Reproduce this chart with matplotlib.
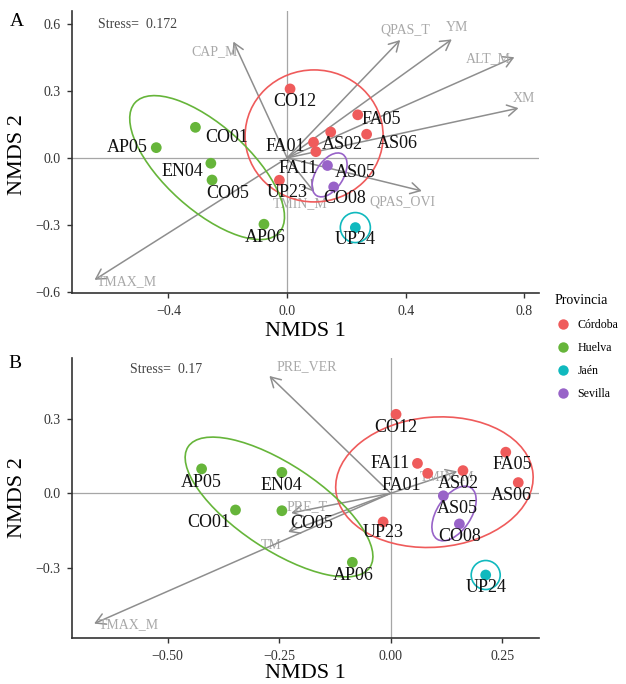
import numpy as np
import matplotlib
matplotlib.use("Agg")
import matplotlib.pyplot as plt
from matplotlib.lines import Line2D
from matplotlib.patches import Circle
from matplotlib.transforms import Affine2D

plt.rcParams["font.family"] = ["Liberation Serif", "DejaVu Serif"]

provinces = ["Córdoba", "Huelva", "Jaén", "Sevilla"]
prov_colors = {"Córdoba": "#EF5B5B", "Huelva": "#66B53A",
               "Jaén": "#10B9BE", "Sevilla": "#9863C8"}

sites = ["CO12", "FA01", "FA11", "AS02", "FA05", "AS06", "UP23",
         "AP05", "CO01", "EN04", "CO05", "AP06", "AS05", "CO08", "UP24"]
site_prov = ["Córdoba"] * 7 + ["Huelva"] * 5 + ["Sevilla"] * 2 + ["Jaén"]

# panel A: site scores
a_x = [0.010, 0.089, 0.097, 0.147, 0.238, 0.268, -0.026,
       -0.441, -0.309, -0.257, -0.253, -0.078, 0.136, 0.157, 0.230]
a_y = [0.309, 0.070, 0.028, 0.116, 0.193, 0.106, -0.100,
       0.046, 0.137, -0.024, -0.099, -0.297, -0.034, -0.130, -0.312]
# panel B: site scores
b_x = [0.012, 0.083, 0.060, 0.162, 0.258, 0.286, -0.017,
       -0.424, -0.348, -0.244, -0.244, -0.086, 0.118, 0.154, 0.213]
b_y = [0.317, 0.080, 0.120, 0.091, 0.165, 0.043, -0.115,
       0.098, -0.067, 0.084, -0.070, -0.277, -0.010, -0.123, -0.328]

# fitted environmental vectors
a_vec = ["CAP_M", "QPAS_T", "YM", "ALT_M", "XM", "QPAS_OVI", "TMIN_M", "TMAX_M"]
a_vec_x = [-0.181, 0.381, 0.555, 0.766, 0.780, 0.454, 0.091, -0.649]
a_vec_y = [0.521, 0.528, 0.531, 0.451, 0.223, -0.148, -0.152, -0.546]
b_vec = ["PRE_VER", "PRE_T", "TM", "TMAX_M", "TMIN_M"]
b_vec_x = [-0.272, -0.223, -0.230, -0.665, 0.149]
b_vec_y = [0.471, -0.079, -0.155, -0.523, 0.088]

# vector label positions
a_vlab_x = [-0.243, 0.398, 0.572, 0.678, 0.799, 0.390, 0.044, -0.540]
a_vlab_y = [0.476, 0.573, 0.585, 0.446, 0.267, -0.197, -0.206, -0.554]
b_vlab_x = [-0.188, -0.188, -0.267, -0.588, 0.126]
b_vlab_y = [0.508, -0.052, -0.208, -0.529, 0.066]

# site label offsets (pixels, right / down)
a_lab_off = [(5, 13), (-28, 4), (-18, 17), (12, 12), (24, 5), (31, 9), (8, 12),
             (-29, 0), (31, 10), (-28, 8), (16, 13), (1, 13), (28, 7), (11, 12), (0, 12)]
b_lab_off = [(0, 13), (-26, 12), (-27, 0), (-5, 13), (6, 12), (-7, 13), (0, 11),
             (0, 14), (-27, 13), (0, 13), (30, 13), (1, 13), (14, 13), (0, 13), (0, 12)]

# group ellipses: centre, two conjugate semi-axes
a_ell = {"Córdoba": ((0.091, 0.0985), (0.2326, 0.0), (0.0, 0.2956)),
         "Huelva": ((-0.2696, -0.0434), (0.243, -0.2906), (0.0947, 0.1397)),
         "Sevilla": ((0.1432, -0.0761), (0.0438, 0.0927), (0.0394, -0.0327)),
         "Jaén": ((0.230, -0.312), (0.0506, 0.0), (0.0, 0.0672))}
b_ell = {"Córdoba": ((0.098, 0.0446), (0.221, 0.0333), (0.0122, -0.260)),
         "Huelva": ((-0.2504, -0.055), (0.2038, -0.2418), (0.0527, 0.1422)),
         "Sevilla": ((0.142, -0.0811), (0.0381, 0.1028), (0.0318, -0.0382)),
         "Jaén": ((0.213, -0.328), (0.0325, 0.0), (0.0, 0.0582))}

W, H = 626, 684
fig = plt.figure(figsize=(W / 100, H / 100), dpi=100)


def add_ring(ax, c, u, v, color):
    tr = Affine2D(np.array([[u[0], v[0], c[0]], [u[1], v[1], c[1]], [0, 0, 1]])) + ax.transData
    ax.add_patch(Circle((0, 0), 1, transform=tr, fill=False, edgecolor=color, lw=1.2, zorder=3))


def panel(ax, xs, ys, offs, vec, vx, vy, lx, ly, ell, stress, sx, sy):
    ax.axhline(0, color="#a6a6a6", lw=0.9, zorder=1)
    ax.axvline(0, color="#a6a6a6", lw=0.9, zorder=1)
    for name, x, y, tx, ty in zip(vec, vx, vy, lx, ly):
        ax.annotate("", xy=(x, y), xytext=(0, 0),
                    arrowprops=dict(arrowstyle="->,head_length=0.7,head_width=0.4",
                                    color="#8e8e8e", lw=1.1, shrinkA=0, shrinkB=0),
                    zorder=2)
        ax.text(tx, ty, name, color="#a8a8a8", fontsize=10, ha="center", va="center", zorder=2)
    for p in provinces:
        c, u, v = ell[p]
        add_ring(ax, c, u, v, prov_colors[p])
    cols = [prov_colors[p] for p in site_prov]
    ax.scatter(xs, ys, s=60, c=cols, linewidths=0, zorder=4)
    for name, x, y, (dx, dy) in zip(sites, xs, ys, offs):
        ax.annotate(name, (x, y), xytext=(dx, -dy), textcoords="offset pixels",
                    ha="center", va="center", fontsize=13, color="#111111", zorder=5)
    ax.text(sx, sy, stress, fontsize=10, color="#444444", ha="left", va="center")
    for s in ["top", "right"]:
        ax.spines[s].set_visible(False)
    for s in ["left", "bottom"]:
        ax.spines[s].set_color("#333333")
        ax.spines[s].set_linewidth(1.2)
    ax.tick_params(length=3.5, width=1, color="#333333", labelsize=10,
                   labelcolor="#333333", pad=5)


axA = fig.add_axes([72 / W, 1 - 293 / H, 467 / W, 282 / H])
panel(axA, a_x, a_y, a_lab_off, a_vec, a_vec_x, a_vec_y, a_vlab_x, a_vlab_y,
      a_ell, "Stress=  0.172", -0.637, 0.596)
axA.set_xlim(-0.725, 0.849)
axA.set_ylim(-0.605, 0.658)
axA.set_xticks([-0.4, 0.0, 0.4, 0.8])
axA.set_yticks([-0.6, -0.3, 0.0, 0.3, 0.6])
axA.set_xticklabels(["\u22120.4", "0.0", "0.4", "0.8"])
axA.set_yticklabels(["\u22120.6", "\u22120.3", "0.0", "0.3", "0.6"])

axB = fig.add_axes([72 / W, 1 - 638.3 / H, 467 / W, 280.3 / H])
panel(axB, b_x, b_y, b_lab_off, b_vec, b_vec_x, b_vec_y, b_vlab_x, b_vlab_y,
      b_ell, "Stress=  0.17", -0.5845, 0.495)
axB.set_xlim(-0.7146, 0.3325)
axB.set_ylim(-0.582, 0.543)
axB.set_xticks([-0.5, -0.25, 0.0, 0.25])
axB.set_yticks([-0.3, 0.0, 0.3])
axB.set_xticklabels(["\u22120.50", "\u22120.25", "0.00", "0.25"])
axB.set_yticklabels(["\u22120.3", "0.0", "0.3"])

# axis titles and panel tags
fig.text(305.5 / W, 1 - 332 / H, "NMDS 1", fontsize=16, ha="center", va="center")
fig.text(305.5 / W, 1 - 673 / H, "NMDS 1", fontsize=16, ha="center", va="center")
fig.text(18 / W, 1 - 155 / H, "NMDS 2", fontsize=16, ha="center", va="center", rotation=90)
fig.text(18 / W, 1 - 498 / H, "NMDS 2", fontsize=16, ha="center", va="center", rotation=90)
fig.text(16.7 / W, 1 - 21.7 / H, "A", fontsize=14, ha="center", va="center")
fig.text(15 / W, 1 - 363 / H, "B", fontsize=14, ha="center", va="center")

handles = [Line2D([], [], marker="o", ls="", markersize=7.5, markeredgewidth=0,
                  markerfacecolor=prov_colors[p]) for p in provinces]
leg = fig.legend(handles, provinces, loc="upper left", bbox_to_anchor=(555 / W, 1 - 294 / H),
                 frameon=False, title="Provincia", fontsize=8.6, title_fontsize=10,
                 alignment="left", handletextpad=0.6, labelspacing=0.9,
                 borderaxespad=0, borderpad=0, handlelength=1.3)
leg._legend_box.sep = 9

fig.savefig("out.png", dpi=100)
